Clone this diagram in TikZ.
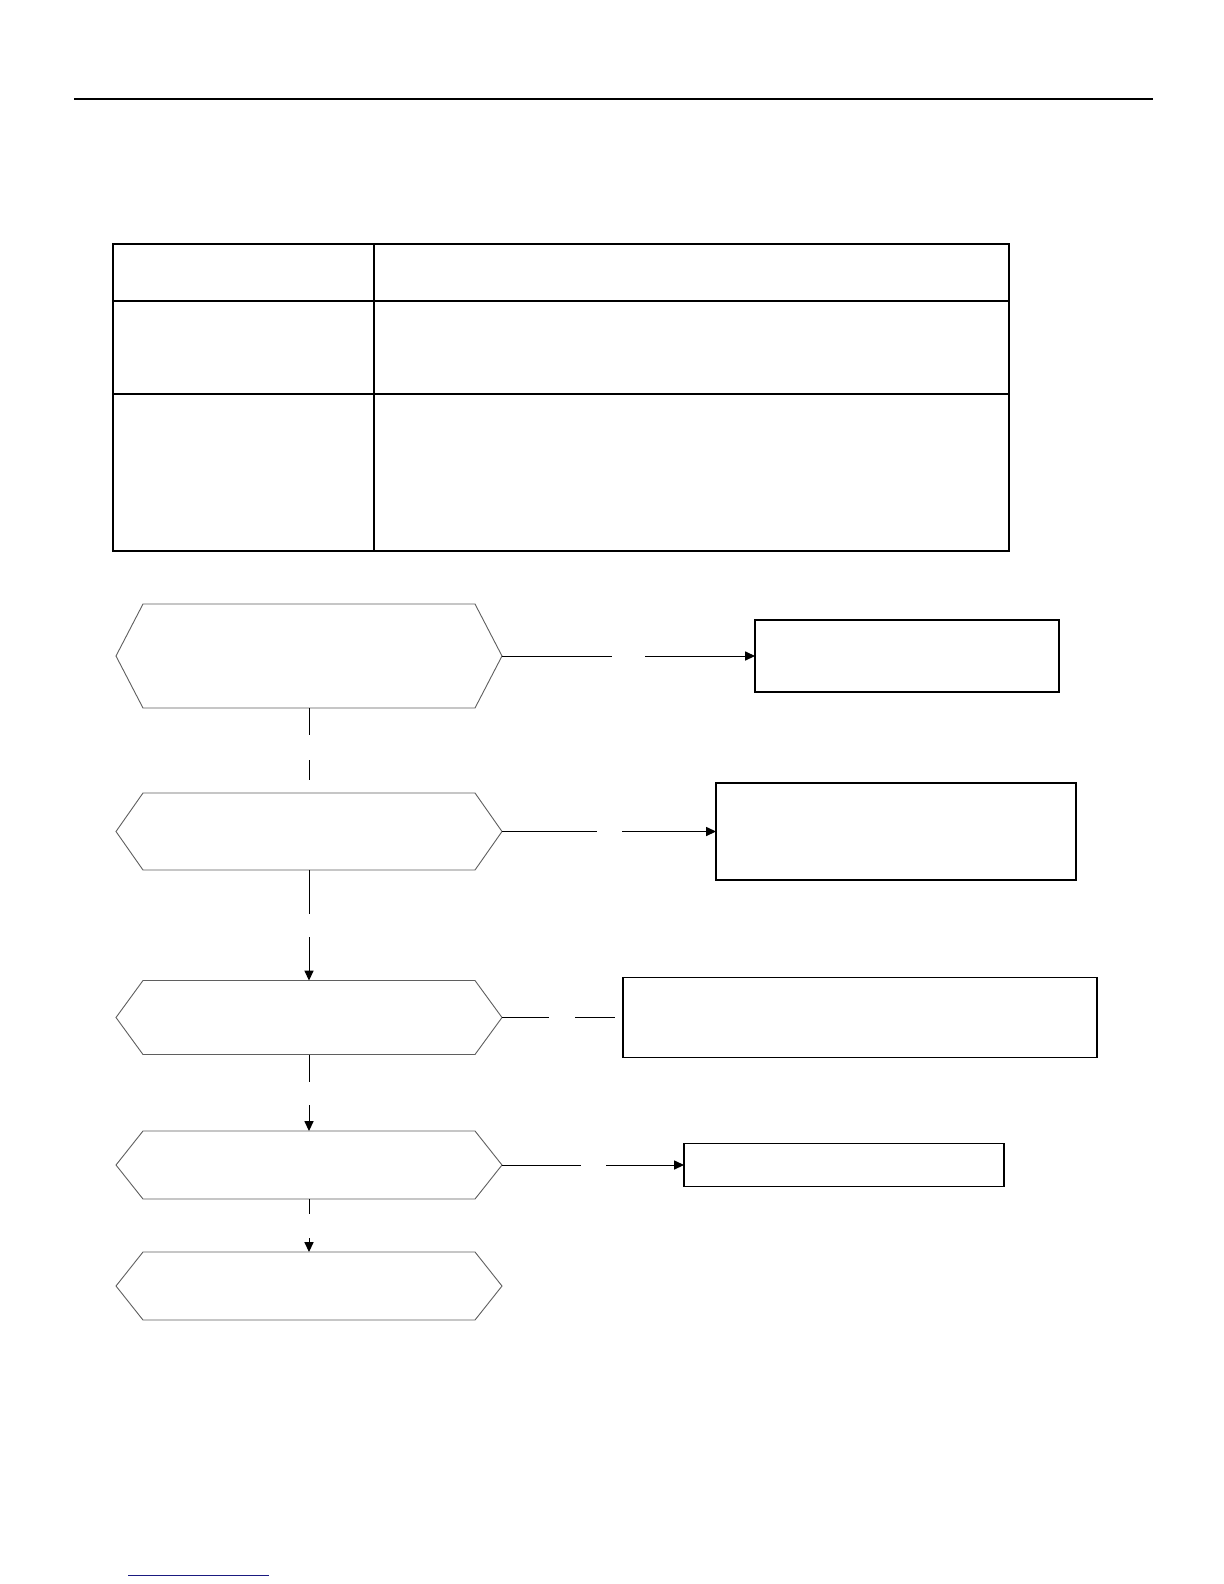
\documentclass[tikz,border=0pt]{standalone}
\usetikzlibrary{arrows.meta,calc}
\definecolor{hexgray}{RGB}{95,95,95}
\definecolor{linkblue}{RGB}{26,26,128}
\begin{document}
\begin{tikzpicture}[x=0.5bp,y=-0.5bp,
  hexbox/.style={rectangle,draw=none,inner sep=0pt,outer sep=0pt,minimum width=193bp},
  hexline/.style={draw=hexgray,line width=0.45bp,line join=miter},
  boxnode/.style={rectangle,draw=black,line width=0.55bp,inner sep=0pt,outer sep=0pt},
  conn/.style={draw=black,line width=0.5bp},
  arr/.style={conn,-{Triangle[length=5bp,width=4.6bp]}},
  tabline/.style={draw=black,line width=0.6bp}]
\useasboundingbox[fill=white] (0,0) rectangle (1224,1584);
\newcommand\hexdraw[1]{%
  \draw[hexline] (#1.west) -- ($(#1.north west)+(27,0)$) -- ($(#1.north east)+(-27,0)$) -- (#1.east) -- ($(#1.south east)+(-27,0)$) -- ($(#1.south west)+(27,0)$) -- cycle;}
% header rule
\draw[line width=0.75bp] (74,99) -- (1153,99);
% table
\draw[tabline] (113,244) rectangle (1009,551);
\draw[tabline] (374,244) -- (374,551);
\draw[tabline] (113,301) -- (1009,301);
\draw[tabline] (113,394) -- (1009,394);
% hexagons
\node[hexbox,minimum height=52bp] (h1) at (309,656) {};
\node[hexbox,minimum height=38.5bp] (h2) at (309,831.5) {};
\node[hexbox,minimum height=37bp] (h3) at (309,1017.5) {};
\node[hexbox,minimum height=34bp] (h4) at (309,1165) {};
\node[hexbox,minimum height=34bp] (h5) at (309,1286) {};
\hexdraw{h1}\hexdraw{h2}\hexdraw{h3}\hexdraw{h4}\hexdraw{h5}
% boxes
\node[boxnode,minimum width=152bp,minimum height=36bp] (b1) at (907,656) {};
\node[boxnode,minimum width=180bp,minimum height=48.5bp] (b2) at (896,831.5) {};
\node[boxnode,minimum width=237bp,minimum height=40bp] (b3) at (860,1017.5) {};
\node[boxnode,minimum width=160bp,minimum height=21.5bp] (b4) at (844,1165) {};
% gap coordinates
\coordinate (g1a) at (612,656); \coordinate (g1b) at (645,656);
\coordinate (g2a) at (597,831.5); \coordinate (g2b) at (622,831.5);
\coordinate (g3a) at (549,1017.5); \coordinate (g3b) at (575,1017.5); \coordinate (g3c) at (615,1017.5);
\coordinate (g4a) at (581,1165); \coordinate (g4b) at (606,1165);
\coordinate (v1a) at (309,735); \coordinate (v1b) at (309,760); \coordinate (v1c) at (309,780);
\coordinate (v2a) at (309,914); \coordinate (v2b) at (309,937);
\coordinate (v3a) at (309,1082); \coordinate (v3b) at (309,1105);
\coordinate (v4a) at (309,1214); \coordinate (v4b) at (309,1238);
% horizontal connectors
\draw[conn] (h1.east) -- (g1a); \draw[arr] (g1b) -- (b1.west);
\draw[conn] (h2.east) -- (g2a); \draw[arr] (g2b) -- (b2.west);
\draw[conn] (h3.east) -- (g3a); \draw[conn] (g3b) -- (g3c);
\draw[conn] (h4.east) -- (g4a); \draw[arr] (g4b) -- (b4.west);
% vertical connectors
\draw[conn] (h1.south) -- (v1a); \draw[conn] (v1b) -- (v1c);
\draw[conn] (h2.south) -- (v2a); \draw[arr] (v2b) -- (h3.north);
\draw[conn] (h3.south) -- (v3a); \draw[arr] (v3b) -- (h4.north);
\draw[conn] (h4.south) -- (v4a); \draw[arr] (v4b) -- (h5.north);
% footer link line
\draw[draw=linkblue,line width=0.5bp] (128,1575) -- (269,1575);
\end{tikzpicture}
\end{document}
